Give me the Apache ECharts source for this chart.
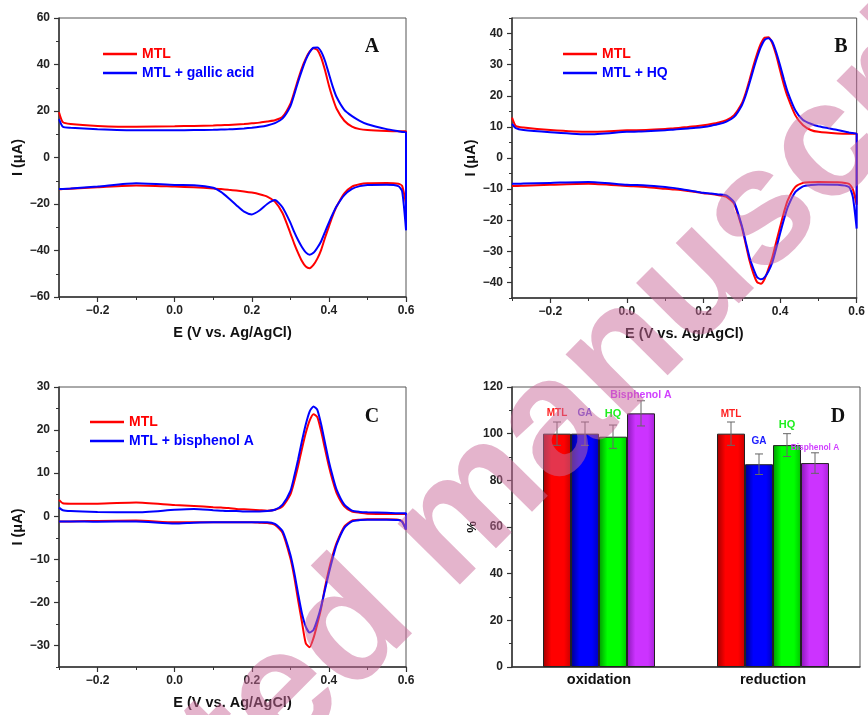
<!DOCTYPE html>
<html><head><meta charset="utf-8">
<script src="https://cdn.jsdelivr.net/npm/echarts@6/dist/echarts.min.js"></script>
<style>html,body{margin:0;padding:0;background:#fff}#c{width:868px;height:715px}</style>
</head><body><div id="c"></div>
<script>
// ---------------- DATA ----------------
// potential grid (V vs. Ag/AgCl) shared by every branch
const E = [-0.3,-0.29,-0.27,-0.2,-0.1,0,0.05,0.1,0.12,0.14,0.16,0.18,0.2,0.22,0.24,0.26,0.28,0.3,0.31,0.32,0.33,0.34,0.35,0.36,0.37,0.38,0.39,0.4,0.41,0.42,0.44,0.46,0.48,0.5,0.55,0.58,0.59,0.6];

// Panel A: MTL vs MTL + gallic acid (forward = anodic sweep, reverse = cathodic sweep)
const A_MTL_FWD = [19.5,15.2,14.4,13.6,13.2,13.4,13.6,13.8,13.9,14.0,14.2,14.4,14.7,15.0,15.5,16.0,17.5,23,28,33.5,38.5,42.5,45.5,47,46.3,43,37.5,31,25.5,21,15.8,13.3,12.2,11.8,11.4,11.3,11.3,11.3];
const A_MTL_REV = [-13.7,-13.6,-13.4,-12.8,-12.0,-12.5,-12.8,-13.3,-13.6,-13.9,-14.2,-14.6,-15.1,-15.8,-16.8,-19,-24,-32.5,-37,-41,-44.5,-46.9,-47.6,-46.2,-43.5,-39.7,-34.5,-29.7,-25,-21.1,-15.4,-12.5,-11.5,-11.1,-11.0,-11.3,-12.2,-20];
const A_GA_FWD = [16.5,13.2,12.8,12.2,11.7,11.7,11.8,11.9,12.0,12.1,12.3,12.5,12.8,13.2,13.8,14.8,16.8,22,27,32.5,37.5,42,45.3,47.2,47.3,45.5,41.5,36,30.5,26,20.5,17.8,15.8,14.3,12.2,11.3,11.0,10.8];
const A_GA_REV = [-13.6,-13.5,-13.3,-12.5,-11.1,-11.8,-11.9,-13.0,-14.8,-17.5,-20.5,-23.3,-24.5,-22.8,-20.0,-18.3,-21.5,-28,-32,-35.5,-38.5,-40.8,-41.8,-41,-38.8,-36,-32,-28,-24.3,-21,-16.2,-13.5,-12.3,-11.8,-11.7,-12.3,-14.5,-31];

// Panel B: MTL vs MTL + HQ
const B_MTL_FWD = [13,10.3,9.8,9.0,8.4,8.9,9.0,9.3,9.5,9.7,10.0,10.2,10.5,10.9,11.4,12.2,13.8,17.5,20.8,25,29.5,33.5,36.8,38.7,38.8,36.8,33,28.2,23.5,19.6,13.7,10.5,9.0,8.4,7.9,7.8,7.8,7.8];
const B_MTL_REV = [-9.0,-9.0,-8.9,-8.6,-8.3,-9.0,-9.3,-9.9,-10.1,-10.3,-10.6,-10.9,-11.3,-11.6,-12.0,-12.5,-14.7,-22.2,-27.5,-32.9,-37,-39.9,-40.4,-38.8,-35.5,-31.8,-27,-22.2,-17.5,-13.6,-9.3,-8.0,-7.8,-7.7,-7.8,-8.3,-10,-15];
const B_HQ_FWD = [11,9.6,9.0,8.3,7.6,8.4,8.6,8.9,9.1,9.3,9.5,9.7,10.0,10.4,10.9,11.7,13.2,16.9,20,24,28.3,32.3,35.7,38,38.5,37.3,34,29.8,25.3,21.2,15.3,12.2,11,10.2,9.0,8.2,8.0,7.8];
const B_HQ_REV = [-8.3,-8.3,-8.2,-8.0,-7.7,-8.6,-8.8,-9.3,-9.6,-10.0,-10.4,-10.8,-11.2,-11.4,-11.7,-12.0,-14.2,-21.7,-26.8,-31.8,-35.5,-38.3,-39,-38.3,-36.3,-33.5,-29,-24.3,-19.8,-15.8,-10.9,-9.1,-8.7,-8.5,-8.6,-9.3,-12.5,-22.7];

// Panel C: MTL vs MTL + bisphenol A
const C_MTL_FWD = [3.8,3.0,2.9,2.9,3.2,2.6,2.4,2.1,2.0,1.9,1.7,1.6,1.5,1.4,1.3,1.5,2.3,5,8,11.6,15.6,19.3,22.2,23.7,23,19.7,15.6,11.6,8.2,5.4,2.3,1.1,0.8,0.6,0.5,0.5,0.5,0.5];
const C_MTL_REV = [-1.2,-1.2,-1.2,-1.1,-1.0,-1.4,-1.4,-1.4,-1.4,-1.4,-1.4,-1.4,-1.4,-1.5,-1.6,-2.0,-3.9,-9.7,-14,-19.4,-24.5,-29.5,-30.4,-28.3,-25,-21.3,-16.5,-12.4,-9,-6.2,-2.4,-1.0,-0.8,-0.7,-0.7,-0.8,-1.2,-3.1];
const C_BPA_FWD = [2.0,1.4,1.2,1.0,0.9,1.5,1.7,1.4,1.3,1.2,1.2,1.1,1.1,1.1,1.2,1.5,2.7,5.8,9.2,13.1,17.4,21.3,24.3,25.5,24.7,21.3,17,12.7,9.2,6.2,2.7,1.3,1.0,0.9,0.8,0.7,0.7,0.7];
const C_BPA_REV = [-1.2,-1.2,-1.2,-1.3,-1.2,-1.7,-1.5,-1.4,-1.4,-1.4,-1.4,-1.4,-1.4,-1.4,-1.4,-1.8,-3.5,-8.9,-13,-17.9,-22.5,-25.6,-27,-26.4,-24,-20.9,-17,-13.2,-9.7,-6.6,-2.7,-1.2,-0.9,-0.8,-0.8,-0.9,-1.3,-3.1];

// axis ticks
const X_MAJOR = [-0.2, 0, 0.2, 0.4, 0.6];
const A_Y_MAJOR = [-60,-40,-20,0,20,40,60];
const B_Y_MAJOR = [-40,-30,-20,-10,0,10,20,30,40];
const C_Y_MAJOR = [-30,-20,-10,0,10,20,30];

// Panel D: relative peak currents (%)
const BAR_CATEGORIES = ['oxidation','reduction'];
const BAR_NAMES = ['MTL','GA','HQ','Bisphenol A'];
const BAR_MTL = [100, 100];
const BAR_GA  = [100, 86.9];
const BAR_HQ  = [98.7, 95.1];
const BAR_BPA = [108.7, 87.4];
const ERR_MTL = [5, 5];
const ERR_GA  = [5, 4.4];
const ERR_HQ  = [5, 4.9];
const ERR_BPA = [5.4, 4.4];

// ---------------- STYLE / LAYOUT ----------------
const FONT = '"Liberation Sans", Arial, sans-serif';
const RED = '#ff0000', BLUE = '#0000ff';
const AX = '#333';
const fmtX = v => { const r = Math.round(v*10)/10; return (r < 0 ? '\u2212' : '') + Math.abs(r).toFixed(1); };
const fmtY = v => (v < 0 ? '\u2212' : '') + Math.abs(Math.round(v));
const tickLbl = {fontWeight:'bold', fontSize:12, color:'#222', fontFamily:FONT};
const nameStyle = {fontWeight:'bold', fontSize:14.5, color:'#111', fontFamily:FONT};

const grids = [
  {left:59, top:18, width:347, height:279},
  {left:512, top:18, width:347, height:280},
  {left:59, top:387, width:347, height:280},
  {left:512, top:387, width:348, height:280}
].map(g => Object.assign(g, {show:true, borderColor:'#555', borderWidth:1, backgroundColor:'transparent'}));

const xAxes = [], yAxes = [];
function cvAxes(g, ymin, ymax, ymajor, yminor) {
  const xi = xAxes.length, yi = yAxes.length;
  xAxes.push({gridIndex:g, type:'value', min:-0.3, max:0.6, position:'bottom',
    axisLine:{show:true, onZero:false, lineStyle:{color:AX, width:1.5}},
    axisTick:{show:true, length:5, customValues:X_MAJOR, lineStyle:{color:AX, width:1.2}},
    axisLabel:Object.assign({customValues:X_MAJOR, formatter:fmtX, margin:8}, tickLbl),
    splitLine:{show:false},
    name:'E (V vs. Ag/AgCl)', nameLocation:'middle', nameGap:28, nameTextStyle:nameStyle});
  xAxes.push({gridIndex:g, type:'value', min:-0.3, max:0.6, interval:0.1, position:'bottom',
    axisLine:{show:false, onZero:false}, axisTick:{show:true, length:3, lineStyle:{color:AX, width:1}},
    axisLabel:{show:false}, splitLine:{show:false}});
  yAxes.push({gridIndex:g, type:'value', min:ymin, max:ymax, position:'left',
    axisLine:{show:true, onZero:false, lineStyle:{color:AX, width:1.5}},
    axisTick:{show:true, length:5, customValues:ymajor, lineStyle:{color:AX, width:1.2}},
    axisLabel:Object.assign({customValues:ymajor, formatter:fmtY, margin:9}, tickLbl),
    splitLine:{show:false},
    name:'I (\u03bcA)', nameLocation:'middle', nameGap:30, nameTextStyle:nameStyle});
  yAxes.push({gridIndex:g, type:'value', min:ymin, max:ymax, interval:yminor, position:'left',
    axisLine:{show:false, onZero:false}, axisTick:{show:true, length:3, lineStyle:{color:AX, width:1}},
    axisLabel:{show:false}, splitLine:{show:false}});
  return {xi, yi};
}
const axA = cvAxes(0, -60, 60, A_Y_MAJOR, 10);
const axB = cvAxes(1, -45, 45, B_Y_MAJOR, 5);
const axC = cvAxes(2, -35, 30, C_Y_MAJOR, 5);

// Panel D axes
const dxi = xAxes.length, dyi = yAxes.length;
xAxes.push({gridIndex:3, type:'category', data:BAR_CATEGORIES,
  axisLine:{show:true, lineStyle:{color:AX, width:1.5}}, axisTick:{show:false},
  axisLabel:{fontWeight:'bold', fontSize:14.5, color:'#111', fontFamily:FONT, margin:5}});
yAxes.push({gridIndex:3, type:'value', min:0, max:120, interval:20, position:'left',
  axisLine:{show:true, onZero:false, lineStyle:{color:AX, width:1.5}},
  axisTick:{show:true, length:5, lineStyle:{color:AX, width:1.2}},
  minorTick:{show:true, splitNumber:2, length:3, lineStyle:{color:AX, width:1}},
  axisLabel:Object.assign({margin:9}, tickLbl), splitLine:{show:false}, minorSplitLine:{show:false},
  name:'%', nameLocation:'middle', nameGap:32, nameTextStyle:{fontWeight:'bold', fontSize:13, color:'#111', fontFamily:FONT}});

function loop(fwd, rev) {
  return E.map((e,i) => [e, fwd[i]]).concat(E.map((e,i) => [e, rev[i]]).reverse());
}
function cv(name, ax, fwd, rev, color) {
  return {type:'line', name, xAxisIndex:ax.xi, yAxisIndex:ax.yi, data:loop(fwd, rev),
    symbol:'none', showSymbol:false, smooth:0.2, clip:true,
    lineStyle:{color, width:2}, itemStyle:{color}, z:3};
}

const series = [
  cv('MTL', axA, A_MTL_FWD, A_MTL_REV, RED),
  cv('MTL + gallic acid', axA, A_GA_FWD, A_GA_REV, BLUE),
  cv('MTL', axB, B_MTL_FWD, B_MTL_REV, RED),
  cv('MTL + HQ', axB, B_HQ_FWD, B_HQ_REV, BLUE),
  cv('MTL', axC, C_MTL_FWD, C_MTL_REV, RED),
  cv('MTL + bisphenol A', axC, C_BPA_FWD, C_BPA_REV, BLUE)
];

// bars
const BAR_W = 28;
const barVals = [BAR_MTL, BAR_GA, BAR_HQ, BAR_BPA];
const barErrs = [ERR_MTL, ERR_GA, ERR_HQ, ERR_BPA];
const barGrad = [
  ['#a00000','#ff0000','#ff0000','#c80000'],
  ['#000088','#0000ff','#0000ff','#0000b8'],
  ['#009a00','#00ff00','#00ff00','#00c400'],
  ['#8a18b8','#cc33ff','#cc33ff','#a824d8']
];
// per-item label styling [oxidation, reduction]
const lblStyle = [
  [{color:'#ff2020', fontSize:10, distance:15}, {color:'#ff2020', fontSize:10, distance:14}],
  [{color:'#7050e0', fontSize:10, distance:15}, {color:'#1a1aff', fontSize:10, distance:18}],
  [{color:'#20ee20', fontSize:11, distance:17}, {color:'#20ee20', fontSize:11, distance:15}],
  [{color:'#d040ff', fontSize:10.5, distance:13}, {color:'#d040ff', fontSize:8.3, distance:11}]
];
BAR_NAMES.forEach((nm, k) => {
  const g = barGrad[k];
  series.push({type:'bar', name:nm + ' (bar)', xAxisIndex:dxi, yAxisIndex:dyi,
    barWidth:BAR_W, barGap:'0%',
    data: barVals[k].map((v,i) => ({value:v, label:lblStyle[k][i]})),
    itemStyle:{borderColor:'#222', borderWidth:1,
      color:new echarts.graphic.LinearGradient(0,0,1,0,[{offset:0,color:g[0]},{offset:0.3,color:g[1]},{offset:0.75,color:g[2]},{offset:1,color:g[3]}])},
    label:{show:true, position:'top', formatter:nm, fontWeight:'bold', fontFamily:FONT},
    z:2});
});
BAR_NAMES.forEach((nm, k) => {
  series.push({type:'custom', name:nm + ' (err)', xAxisIndex:dxi, yAxisIndex:dyi, z:4,
    data: barVals[k].map((v,i) => [i, v, barErrs[k][i]]),
    renderItem:(params, api) => {
      const off = (k - 1.5) * BAR_W;
      const hi = api.coord([api.value(0), api.value(1) + api.value(2)]);
      const lo = api.coord([api.value(0), api.value(1) - api.value(2)]);
      const x = hi[0] + off, cw = 4;
      const st = {stroke:'#666', lineWidth:1};
      return {type:'group', children:[
        {type:'line', shape:{x1:x, y1:hi[1], x2:x, y2:lo[1]}, style:st},
        {type:'line', shape:{x1:x-cw, y1:hi[1], x2:x+cw, y2:hi[1]}, style:st},
        {type:'line', shape:{x1:x-cw, y1:lo[1], x2:x+cw, y2:lo[1]}, style:st}
      ]};
    }});
});

const legendBase = {orient:'vertical', itemWidth:34, itemHeight:2.5, itemGap:5, selectedMode:false, icon:'rect',
  textStyle:{fontWeight:'bold', fontSize:14, fontFamily:FONT}};
const legends = [
  Object.assign({left:98, top:42, data:[{name:'MTL', textStyle:{color:RED}}, {name:'MTL + gallic acid', textStyle:{color:BLUE}}]}, legendBase),
  Object.assign({left:558, top:42, data:[{name:'MTL', textStyle:{color:RED}}, {name:'MTL + HQ', textStyle:{color:BLUE}}]}, legendBase),
  Object.assign({left:85, top:410, data:[{name:'MTL', textStyle:{color:RED}}, {name:'MTL + bisphenol A', textStyle:{color:BLUE}}]}, legendBase)
];

const letter = (t, x, y) => ({type:'text', x, y, z:50,
  style:{text:t, font:'bold 20px "Liberation Serif", "Times New Roman", serif', fill:'#111', align:'center', verticalAlign:'middle'}});

const chart = echarts.init(document.getElementById('c'), null, {renderer:'canvas'});
chart.setOption({
  animation:false,
  backgroundColor:'#fff',
  grid:grids, xAxis:xAxes, yAxis:yAxes, legend:legends, series,
  graphic:{elements:[
    letter('A', 372, 47), letter('B', 841, 47), letter('C', 372, 417), letter('D', 838, 417),
    {type:'text', x:455, y:525, rotation:0.79, z:1000, silent:true,
      style:{text:'Accepted manuscript', font:'bold 165px "Liberation Sans", Arial, sans-serif',
        fill:'rgba(201,105,153,0.5)', align:'center', verticalAlign:'middle'}}
  ]}
});
</script></body></html>
